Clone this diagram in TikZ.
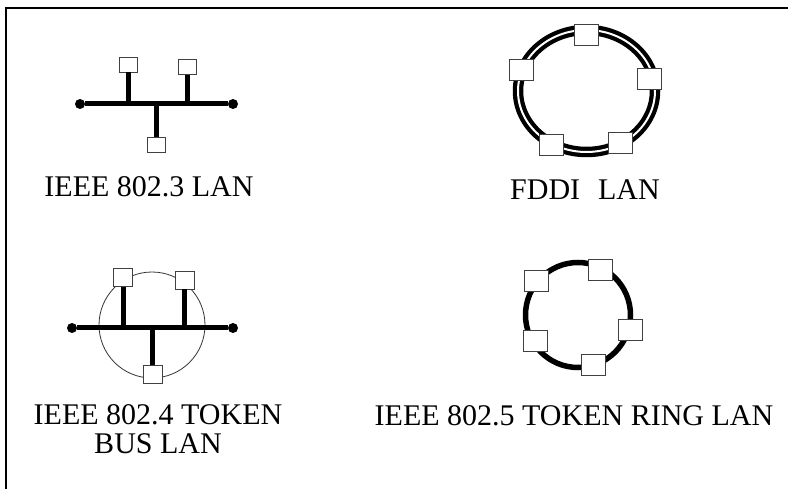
\documentclass[tikz,border=0pt]{standalone}
\usepackage{fontspec}
\setmainfont{Liberation Serif}
\usepackage{tikz}
\usetikzlibrary{positioning}
\tikzset{
  font=\fontsize{30}{29}\selectfont,
  station/.style={
    rectangle, draw=black!75, fill=white, line width=0.9pt,
    inner sep=0pt, minimum width=18pt, minimum height=15pt
  },
  tokenstation/.style={station, minimum width=19pt, minimum height=18pt},
  ringstation/.style={station, minimum width=24pt, minimum height=21pt},
  terminator/.style={circle, fill=black, inner sep=0pt, minimum size=10pt},
  busline/.style={draw=black, line width=5pt},
  tapline/.style={draw=black, line width=5pt},
  tokenpath/.style={draw=black!80, line width=0.8pt},
  caption/.style={inner sep=0pt, align=center}
}

\begin{document}
\begin{tikzpicture}[x=1pt, y=-1pt]
  \useasboundingbox (0,0) rectangle (788,489);
  \draw[line width=2pt] (6,489) -- (6,8) -- (788,8);

  % IEEE 802.3
  \node[terminator] (ta1) at (80,104) {};
  \node[terminator] (ta2) at (233,104) {};
  \draw[busline] (ta1) -- (ta2);
  \node[station] (sa1) at (128,64.5) {};
  \node[station] (sa2) at (187,67) {};
  \node[station] (sa3) at (156,144.5) {};
  \draw[tapline] (sa1.south) -- (sa1.south |- ta1);
  \draw[tapline] (sa2.south) -- (sa2.south |- ta1);
  \draw[tapline] (sa3.north) -- (sa3.north |- ta1);
  \node[caption, anchor=base] (la) at (149,197) {IEEE 802.3 LAN};

  % FDDI
  \coordinate (fddi) at (586.5,91);
  \draw[line width=10.5pt] (fddi) ellipse [x radius=68.5, y radius=61];
  \draw[line width=2pt, white] (fddi) ellipse [x radius=68.5, y radius=61];
  \node[ringstation] (sf1) at (586,34.5) {};
  \node[ringstation] (sf2) at (521,70) {};
  \node[ringstation] (sf3) at (649,79) {};
  \node[ringstation] (sf4) at (551.5,144.5) {};
  \node[ringstation] (sf5) at (620,143) {};
  \node[caption, anchor=base] (lf) at (585,200) {FDDI\hspace{0.6em}LAN};

  % IEEE 802.4
  \coordinate (tbus) at (152,325);
  \draw[tokenpath] (tbus) circle [radius=53];
  \node[terminator] (tb1) at (72,328) {};
  \node[terminator] (tb2) at (233,328) {};
  \draw[busline] (tb1) -- (tb2);
  \node[tokenstation] (sb1) at (123,277.5) {};
  \node[tokenstation] (sb2) at (184.5,280) {};
  \node[tokenstation] (sb3) at (152.5,374) {};
  \draw[tapline] (sb1.south) -- (sb1.south |- tb1);
  \draw[tapline] (sb2.south) -- (sb2.south |- tb1);
  \draw[tapline] (sb3.north) -- (sb3.north |- tb1);
  \node[caption, anchor=north] (lb) at (158,404) {IEEE 802.4 TOKEN\\BUS LAN};

  % IEEE 802.5
  \coordinate (tring) at (578,315);
  \draw[line width=5.5pt] (tring) circle [radius=52.5];
  \node[ringstation] (sr1) at (536.5,281) {};
  \node[ringstation] (sr2) at (600,270) {};
  \node[ringstation] (sr3) at (630,329.5) {};
  \node[ringstation] (sr4) at (535.5,340.5) {};
  \node[ringstation] (sr5) at (593,364.5) {};
  \node[caption, anchor=base] (lr) at (574,425) {IEEE 802.5 TOKEN RING LAN};
\end{tikzpicture}
\end{document}
